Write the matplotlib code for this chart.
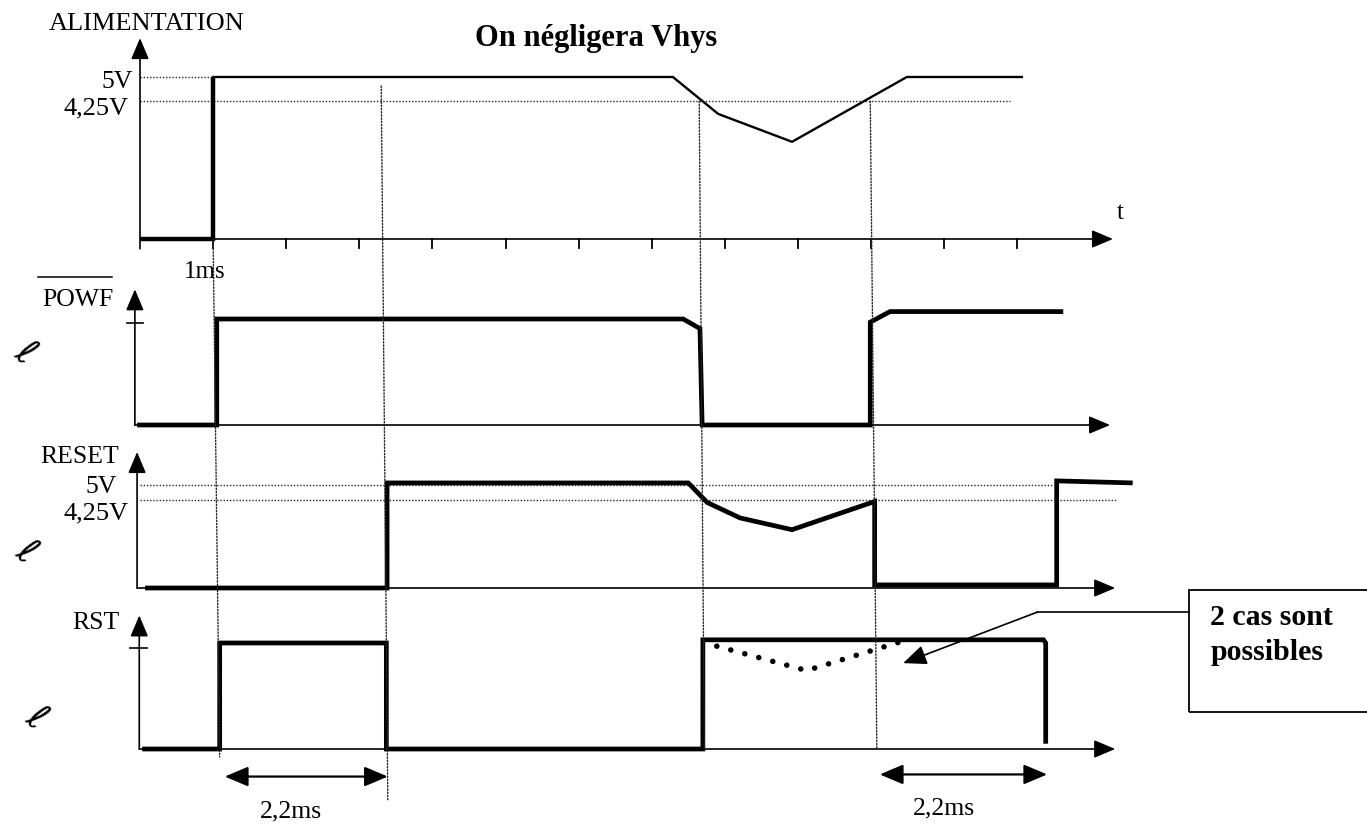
import matplotlib
matplotlib.use("Agg")
import matplotlib.pyplot as plt
from matplotlib.patches import ConnectionPatch, Rectangle

# ---------------- data (time in ms, levels in V / logic units) ----------------
tick_times = [1, 2, 3, 4, 5, 6, 7, 8, 9, 10, 11, 12]

alim_t = [0.0, 1.0, 1.0, 7.29, 7.91, 8.92, 10.49, 12.08]
alim_v = [0.0, 0.0, 5.0, 5.0, 3.86, 3.0, 5.0, 5.0]

powf_t = [-0.04, 1.05, 1.05, 7.43, 7.66, 7.69, 9.99, 9.99, 10.26, 12.63]
powf_v = [0.0, 0.0, 1.0, 1.0, 0.91, 0.0, 0.0, 0.97, 1.07, 1.07]

reset_t = [0.07, 3.38, 3.38, 7.50, 7.76, 8.21, 8.92, 10.05, 10.05, 12.48, 12.54, 12.54, 13.58]
reset_v = [0.0, 0.0, 5.1, 5.1, 4.15, 3.4, 2.83, 4.2, 0.15, 0.15, 0.15, 5.2, 5.1]

rst_t = [0.03, 1.09, 1.09, 3.37, 3.37, 7.70, 7.70, 12.36, 12.39, 12.39]
rst_v = [0.0, 0.0, 1.0, 1.0, 0.0, 0.0, 1.03, 1.03, 1.0, 0.05]

rst_alt_t = [7.89, 9.12, 10.49]
rst_alt_v = [0.97, 0.74, 1.03]

levels_v = [5.0, 4.25]
level_labels = ["5V", "4,25V"]

delay_label = "2,2ms"
title = "On négligera Vhys"
note_lines = ["2 cas sont", "possibles"]

# ---------------- layout ----------------
W, H = 1367, 824
X0, PXMS = 140.0, 73.1          # pixel of t=0, pixels per ms

fig = plt.figure(figsize=(W / 100, H / 100), dpi=100)
fig.patch.set_facecolor("white")
SERIF = ["Liberation Serif", "DejaVu Serif"]


def panel(base, scale):
    ax = fig.add_axes([0, 0, 1, 1])
    ax.set_xlim(-X0 / PXMS, (W - X0) / PXMS)
    ax.set_ylim((base - H) / scale, base / scale)
    ax.axis("off")
    ax.patch.set_alpha(0)
    return ax


ax_a = panel(239, 32.4)    # ALIMENTATION (V)
ax_p = panel(425, 106)     # POWF (logic)
ax_r = panel(588, 20.6)    # RESET (V)
ax_s = panel(749, 106)     # RST (logic)

AXLW = 1.2
SIGLW = 3.4
DOT = dict(color="0.15", lw=1.0, linestyle=(0, (1.0, 1.3)))


def arrow(ax, p0, p1, style="-|>", lw=AXLW, ms=10):
    ax.annotate("", xy=p1, xytext=p0,
                arrowprops=dict(arrowstyle=style + ",head_length=1.3,head_width=0.55",
                                lw=lw, color="black", mutation_scale=ms,
                                shrinkA=0, shrinkB=0))


# ---- axes with arrows ----
arrow(ax_a, (0.0, -0.3), (0.0, 6.2))
arrow(ax_a, (0.0, 0.0), (13.31, 0.0))
arrow(ax_p, (-0.07, 0.0), (-0.07, 1.28))
arrow(ax_p, (-0.07, 0.0), (13.27, 0.0))
arrow(ax_r, (-0.04, 0.0), (-0.04, 6.6))
arrow(ax_r, (-0.04, 0.0), (13.34, 0.0))
arrow(ax_s, (-0.01, 0.0), (-0.01, 1.26))
arrow(ax_s, (-0.01, 0.0), (13.34, 0.0))

# time ticks on the supply axis
for t in tick_times:
    ax_a.plot([t, t], [0, -0.28], color="black", lw=1.3)

# level ticks on logic axes
ax_p.plot([-0.18, 0.04], [0.96, 0.96], color="black", lw=1.2)
ax_s.plot([-0.13, 0.09], [0.95, 0.95], color="black", lw=1.2)

# ---- dotted level lines ----
ax_a.plot([0, alim_t[1]], [levels_v[0]] * 2, **DOT)
ax_a.plot([0, 11.9], [levels_v[1]] * 2, **DOT)
ax_r.plot([0, 12.5], [levels_v[0]] * 2, **DOT)
ax_r.plot([0, 13.35], [levels_v[1]] * 2, **DOT)

# ---- dotted vertical guides (from supply panel to RST panel) ----
guide_t_top = [1.0, 3.30, 7.65, 9.99]
guide_t_bot = [1.09, 3.39, 7.72, 10.08]
guide_v_top = [0.0, 4.72, 4.25, 4.25]
guide_v_bot = [-0.075, -0.48, 0.0, 0.0]
for tt, tb, vt, vb in zip(guide_t_top, guide_t_bot, guide_v_top, guide_v_bot):
    cp = ConnectionPatch(xyA=(tt, vt), coordsA=ax_a.transData,
                         xyB=(tb, vb), coordsB=ax_s.transData,
                         color="0.15", lw=1.0, linestyle=(0, (1.0, 1.3)))
    fig.add_artist(cp)

# ---- signals ----
kw = dict(color="black", solid_joinstyle="miter", solid_capstyle="butt")
ax_a.plot(alim_t, alim_v, lw=1.7, **kw)
ax_a.plot(alim_t[:3], alim_v[:3], lw=3.2, **kw)
ax_p.plot(powf_t, powf_v, lw=SIGLW, **kw)
ax_r.plot(reset_t, reset_v, lw=SIGLW, **kw)
ax_s.plot(rst_t, rst_v, lw=SIGLW, **kw)
ax_s.plot(rst_alt_t, rst_alt_v, color="black", lw=4.0,
          linestyle=(0, (0.01, 2.6)), dash_capstyle="round")

# ---- labels ----
tk = dict(family=SERIF, color="black")
ax_a.text(-1.245, 6.65, "ALIMENTATION", fontsize=19, ha="left", va="center", **tk)
ax_a.text(-0.096, 4.85, level_labels[0], fontsize=18.5, ha="right", va="center", **tk)
ax_a.text(-0.164, 4.04, level_labels[1], fontsize=19, ha="right", va="center", **tk)
ax_a.text(0.89, -1.02, "1ms", fontsize=18, ha="center", va="center", **tk)
ax_a.text(6.24, 6.2, title, fontsize=22, fontweight="bold", ha="center", va="center", **tk)
ax_a.text(13.41, 0.8, "t", fontsize=18, ha="center", va="center", **tk)

ax_p.text(-1.34, 1.18, "POWF", fontsize=18.5, ha="left", va="center", **tk)
ax_p.plot([-1.40, -0.38], [1.40, 1.40], color="black", lw=1.1)

ax_r.text(-1.37, 6.36, "RESET", fontsize=18.5, ha="left", va="center", **tk)
ax_r.text(-0.31, 4.9, level_labels[0], fontsize=18.5, ha="right", va="center", **tk)
ax_r.text(-0.16, 3.64, level_labels[1], fontsize=19, ha="right", va="center", **tk)

ax_s.text(-0.93, 1.19, "RST", fontsize=18.5, ha="left", va="center", **tk)

# 2,2 ms delays
arrow(ax_s, (1.16, -0.26), (3.39, -0.26), style="<|-|>", lw=1.6, ms=11)
arrow(ax_s, (10.12, -0.24), (12.41, -0.24), style="<|-|>", lw=1.6, ms=11)
ax_s.text(2.07, -0.59, delay_label, fontsize=18.5, ha="center", va="center", **tk)
ax_s.text(11.0, -0.56, delay_label, fontsize=18.5, ha="center", va="center", **tk)

# callout box
ax_s.add_patch(Rectangle((14.35, 0.35), 10, 1.15, fill=False, lw=1.3, color="black"))
ax_s.plot([14.35, 12.27], [1.29, 1.29], color="black", lw=1.2)
arrow(ax_s, (12.27, 1.29), (10.44, 0.81), lw=1.2, ms=11)
ax_s.text(14.64, 1.24, note_lines[0], fontsize=21.5, fontweight="bold", ha="left", va="center", **tk)
ax_s.text(14.64, 0.91, note_lines[1], fontsize=21.5, fontweight="bold", ha="left", va="center", **tk)

# handwritten marks in the left margin
hw = dict(family=["DejaVu Sans"], color="black", fontsize=26,
          ha="center", va="center")
ax_p.text(-1.57, 0.68, "ℓ", rotation=-40, **hw)
ax_r.text(-1.56, 1.75, "ℓ", rotation=-40, **hw)
ax_s.text(-1.42, 0.30, "ℓ", rotation=-40, **hw)

fig.savefig("out.png", dpi=100, facecolor="white")
